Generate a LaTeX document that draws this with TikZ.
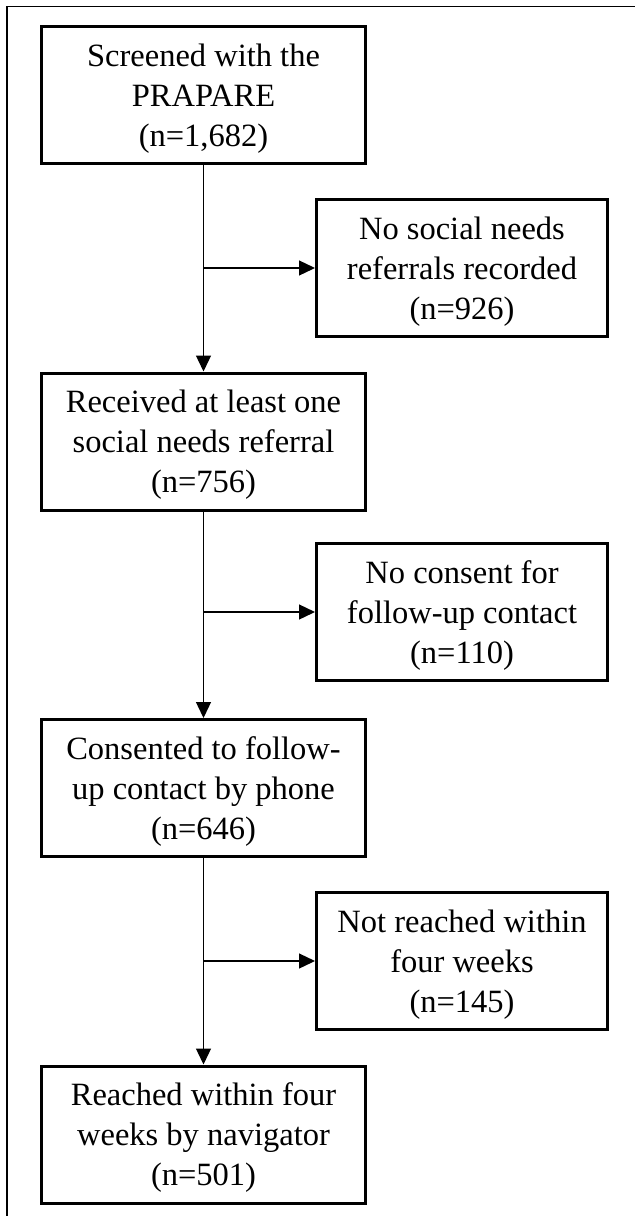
\documentclass[tikz,border=0pt]{standalone}
\usepackage{fontspec}
\setmainfont{Liberation Serif}
\usetikzlibrary{arrows.meta}
\begin{document}
\begin{tikzpicture}[x=1pt,y=-1pt,
  box/.style={draw=black,line width=3pt,inner sep=0pt,align=center,
    text depth=-1.5pt,
    font=\fontsize{32.5}{40}\selectfont},
  leftbox/.style={box,minimum width=324pt,minimum height=137pt},
  rightbox/.style={box,minimum width=291pt,minimum height=137pt},
  flow/.style={line width=1.3pt,-{Triangle[length=16pt,width=15pt]}},
  plain/.style={line width=1.3pt}]
\useasboundingbox (0,0) rectangle (635,1216);
\draw[line width=1.5pt] (7,1216) -- (7,6.5) -- (635,6.5);
\node[leftbox] (b1) at (203.5,95) {Screened with the\\PRAPARE\\(n=1,682)};
\node[rightbox] (b2) at (462,268) {No social needs\\referrals recorded\\(n=926)};
\node[leftbox] (b3) at (203.5,441.5) {Received at least one\\social needs referral\\(n=756)};
\node[rightbox] (b4) at (462,612) {No consent for\\follow-up contact\\(n=110)};
\node[leftbox] (b5) at (203.5,788) {Consented to follow-\\up contact by phone\\(n=646)};
\node[rightbox] (b6) at (462,961) {Not reached within\\four weeks\\(n=145)};
\node[leftbox] (b7) at (203.5,1134.5) {Reached within four\\weeks by navigator\\(n=501)};
\coordinate (j1) at (b1.south |- b2.west);
\coordinate (j2) at (b3.south |- b4.west);
\coordinate (j3) at (b5.south |- b6.west);
\draw[flow] (b1.south) -- (b3.north);
\draw[flow] (j1) -- (b2.west);
\draw[flow] (b3.south) -- (b5.north);
\draw[flow] (j2) -- (b4.west);
\draw[flow] (b5.south) -- (b7.north);
\draw[flow] (j3) -- (b6.west);
\end{tikzpicture}
\end{document}
